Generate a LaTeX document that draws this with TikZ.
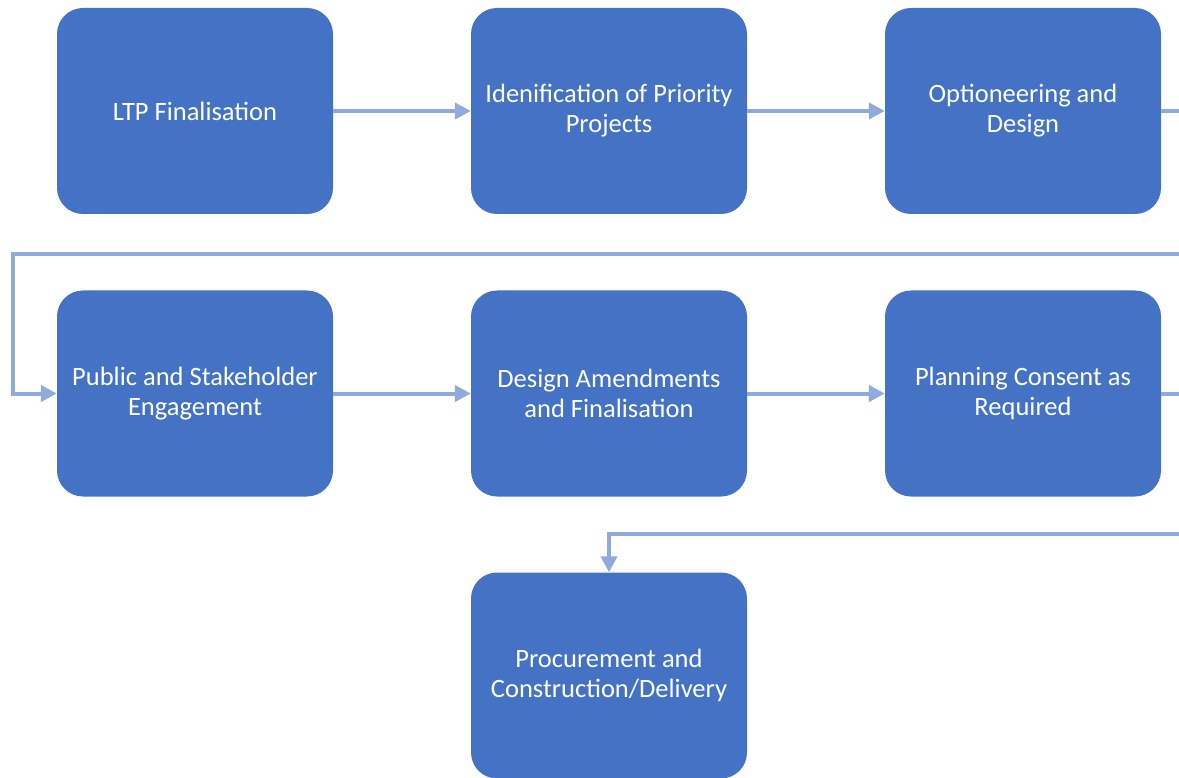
\documentclass[tikz,border=0pt]{standalone}
\usepackage{fontspec}
\setmainfont{Carlito}
\usetikzlibrary{arrows.meta}
\definecolor{boxblue}{HTML}{4472C4}
\definecolor{linkblue}{HTML}{8FAADC}
\begin{document}
\begin{tikzpicture}[x=1pt,y=-1pt,
  stage/.style={rectangle, rounded corners=26pt, fill=boxblue, draw=none,
    minimum width=276pt, minimum height=206pt, align=center,
    text=white, font=\fontsize{26.5pt}{30pt}\selectfont},
  flow/.style={draw=linkblue, line width=4pt,
    -{Triangle[length=16pt,width=16pt]}}]
\useasboundingbox (0,0) rectangle (1179,778);
\clip (0,0) rectangle (1179,778);
% row 1
\node[stage] (s1) at (195,111) {LTP Finalisation};
\node[stage] (s2) at (609,111) {Idenification of Priority\\Projects};
\node[stage] (s3) at (1023,111) {Optioneering and\\Design};
% row 2
\node[stage] (s4) at (195,393.5) {Public and Stakeholder\\Engagement};
\node[stage] (s5) at (609,393.5) {Design Amendments\\and Finalisation};
\node[stage] (s6) at (1023,393.5) {Planning Consent as\\Required};
% row 3
\node[stage] (s7) at (609,675.5) {Procurement and\\Construction/Delivery};
% turn points for the wrap-around links
\coordinate (r1) at (1195,254);
\coordinate (l1) at (13,254);
\coordinate (r2) at (1195,534);
% links
\draw[flow] (s1.east) -- (s2.west);
\draw[flow] (s2.east) -- (s3.west);
\draw[flow] (s3.east) -| (r1) -- (l1) |- (s4.west);
\draw[flow] (s4.east) -- (s5.west);
\draw[flow] (s5.east) -- (s6.west);
\draw[flow] (s6.east) -| (r2) -| (s7.north);
\end{tikzpicture}
\end{document}
